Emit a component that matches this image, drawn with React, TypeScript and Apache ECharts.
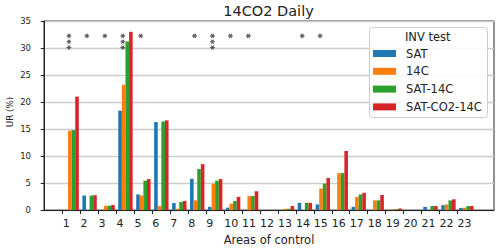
import React, { useEffect, useRef } from "react";
import * as echarts from "echarts";

const areas = [1, 2, 3, 4, 5, 6, 7, 8, 9, 10, 11, 12, 13, 14, 15, 16, 17, 18, 19, 20, 21, 22, 23];
const seriesNames = ["SAT", "14C", "SAT-14C", "SAT-CO2-14C"];
const satValues = [0, 2.7, 0, 18.4, 2.9, 16.3, 1.3, 5.8, 0.6, 0.45, 0, 0, 0, 1.35, 1.05, 0, 0.6, 0, 0, 0, 0.6, 0.9, 0.4];
const c14Values = [14.7, 0, 0.8, 23.2, 2.7, 0.75, 0.25, 1.8, 4.9, 1.2, 2.6, 0, 0.25, 0, 4.0, 6.85, 2.45, 1.8, 0.15, 0, 0, 1.05, 0.45];
const sat14cValues = [14.8, 2.7, 0.8, 31.2, 5.45, 16.4, 1.5, 7.6, 5.45, 1.7, 2.6, 0, 0.25, 1.35, 4.9, 6.85, 2.9, 1.8, 0.15, 0, 0.75, 1.8, 0.75];
const satCo214cValues = [21.0, 2.75, 0.95, 33.0, 5.75, 16.6, 1.7, 8.5, 5.75, 2.45, 3.5, 0, 0.75, 1.35, 5.95, 10.95, 3.2, 2.8, 0.3, 0, 0.75, 2.0, 0.75];
const starCounts = [3, 1, 1, 3, 1, 0, 0, 1, 3, 1, 1, 0, 0, 1, 1, 0, 0, 0, 0, 0, 0, 0, 0];
const yTicks = [0, 5, 10, 15, 20, 25, 30, 35];

const colors = ["#1f77b4", "#ff7f0e", "#2ca02c", "#d62728"];
const FONT = "DejaVu Sans";

function asteriskPath(): string {
  const L = 10;
  const W = 2.2;
  let d = "";
  [0, 60, 120].forEach((deg) => {
    const t = (deg * Math.PI) / 180;
    const c = Math.cos(t);
    const s = Math.sin(t);
    const pts = [
      [L * c - W * s + 10, L * s + W * c + 10],
      [-L * c - W * s + 10, -L * s + W * c + 10],
      [-L * c + W * s + 10, -L * s - W * c + 10],
      [L * c + W * s + 10, L * s - W * c + 10],
    ];
    d += "M" + pts.map((p) => p[0].toFixed(2) + " " + p[1].toFixed(2)).join("L") + "Z";
  });
  return "path://" + d;
}

export default function App() {
  const ref = useRef<HTMLDivElement>(null);
  useEffect(() => {
    if (!ref.current) return;
    const chart = echarts.init(ref.current, null, { renderer: "svg" });
    const allValues = [satValues, c14Values, sat14cValues, satCo214cValues];
    const groupShift = 0.5;
    const starShift = 0.35;
    const starTop = 32.25;
    const starStep = 1.08;
    const starData: number[][] = [];
    areas.forEach((a, i) => {
      for (let k = 0; k < starCounts[i]; k++) starData.push([a + starShift, starTop - k * starStep]);
    });
    const barSeries = allValues.map((vals, s) => ({
      name: seriesNames[s],
      type: "bar",
      data: areas.map((a, i) => [a + groupShift, vals[i]]),
      barWidth: 3.6,
      barGap: "0%",
      itemStyle: { color: colors[s] },
      z: 2,
    }));
    chart.setOption({
      animation: false,
      backgroundColor: "#ffffff",
      textStyle: { fontFamily: FONT },
      grid: {
        left: 44,
        right: 6,
        top: 21,
        bottom: 38.5,
        show: true,
        borderColor: "#222",
        borderWidth: 1,
        backgroundColor: "transparent",
      },
      legend: {
        orient: "vertical",
        left: 373,
        top: 47,
        padding: 0,
        itemWidth: 23,
        itemHeight: 7,
        itemGap: 4.8,
        icon: "rect",
        selectedMode: false,
        data: seriesNames,
        textStyle: { fontFamily: FONT, fontSize: 11.5, color: "#222", lineHeight: 13, padding: [0, 0, 0, 5] },
        z: 10,
      },
      xAxis: {
        type: "value",
        min: -0.04,
        max: 25.04,
        name: "Areas of control",
        nameLocation: "middle",
        nameGap: 22,
        nameTextStyle: { fontFamily: FONT, fontSize: 11.5, color: "#222" },
        axisLine: { show: true, lineStyle: { color: "#222", width: 1 } },
        axisTick: { show: true, length: 4, customValues: areas, lineStyle: { color: "#222" } },
        axisLabel: {
          customValues: areas,
          align: "left",
          margin: 8,
          fontFamily: FONT,
          fontSize: 11,
          color: "#222",
          formatter: (v: number) => String(Math.round(v)),
        },
        splitLine: { show: false },
      },
      yAxis: {
        type: "value",
        min: 0,
        max: 35,
        interval: 5,
        axisLine: { show: true, lineStyle: { color: "#222", width: 1 } },
        axisTick: { show: true, length: 4, lineStyle: { color: "#222" } },
        axisLabel: {
          margin: 13,
          fontFamily: FONT,
          fontSize: 8.5,
          color: "#222",
          formatter: (v: number) => (yTicks.includes(v) ? String(v) : ""),
        },
        splitLine: { show: true, lineStyle: { color: "#cccccc", width: 1.3 } },
      },
      series: [
        ...barSeries,
        {
          name: "stars",
          type: "scatter",
          data: starData,
          symbol: asteriskPath(),
          symbolSize: [4.8, 4.6],
          itemStyle: { color: "#333" },
          z: 5,
        },
      ],
      graphic: [
        {
          type: "text",
          x: 268.5,
          y: 10.5,
          style: { text: "14CO2 Daily", fontFamily: FONT, fontSize: 14.5, fill: "#222", align: "center", verticalAlign: "middle" },
        },
        {
          type: "text",
          x: 10,
          y: 112,
          rotation: Math.PI / 2,
          style: { text: "UR (%)", fontFamily: FONT, fontSize: 8.8, fill: "#222", align: "center", verticalAlign: "middle" },
        },
        {
          type: "rect",
          z: 3,
          shape: { x: 369.5, y: 27.5, width: 118, height: 90, r: 3 },
          style: { fill: "rgba(255,255,255,0.85)", stroke: "#cccccc", lineWidth: 1 },
        },
        {
          type: "text",
          z: 4,
          x: 427.7,
          y: 36.7,
          style: { text: "INV test", fontFamily: FONT, fontSize: 11.5, fill: "#222", align: "center", verticalAlign: "middle" },
        },
      ],
    });
    return () => chart.dispose();
  }, []);
  return <div ref={ref} style={{ position: "fixed", left: 0, top: 0, width: 500, height: 251 }} />;
}
